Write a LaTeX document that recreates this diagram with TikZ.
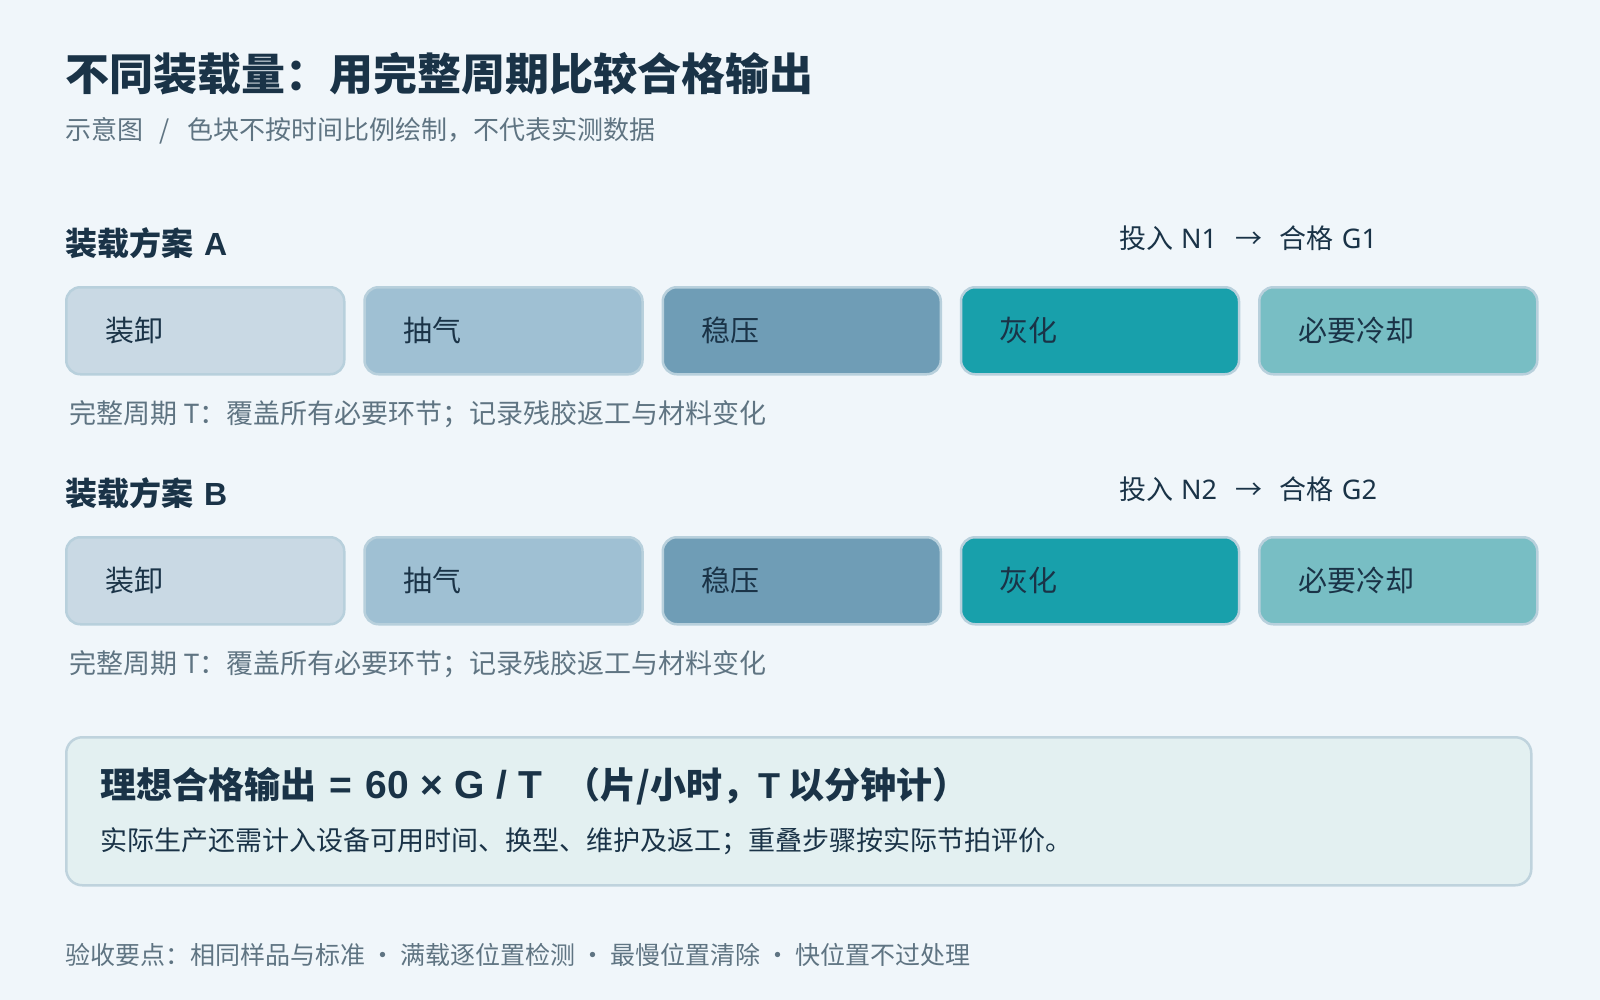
\documentclass[tikz,border=0pt]{standalone}
\usepackage{fontspec}
\setmainfont{Noto Sans CJK SC}
\newfontfamily\lat{Noto Sans}
\newfontfamily\latb{Liberation Sans}
\definecolor{bg}{HTML}{F0F6FA}
\definecolor{ink}{HTML}{1A3347}
\definecolor{sub}{HTML}{5F7482}
\definecolor{cA}{HTML}{C9D9E4}
\definecolor{cB}{HTML}{9FC0D3}
\definecolor{cC}{HTML}{6F9DB6}
\definecolor{cD}{HTML}{18A0AB}
\definecolor{cE}{HTML}{78BEC4}
\definecolor{bord}{HTML}{B8D0DC}
\definecolor{fbox}{HTML}{E3F0F1}
\definecolor{fbord}{HTML}{BFD3DD}
\newcommand{\fs}[1]{\fontsize{#1pt}{#1pt}\selectfont}
\newcommand{\lt}[1]{{\lat #1}}
\newcommand{\ltb}[1]{{\latb\bfseries #1}}
\tikzset{
  txt/.style={anchor=base west, inner sep=0pt, outer sep=0pt},
  stage/.style={draw=bord, line width=2.5pt, rounded corners=14pt, minimum width=278pt, minimum height=87pt, inner sep=0pt, anchor=north west},
  stagelbl/.style={anchor=west, inner sep=0pt, text=ink, font=\fs{29}},
}
\begin{document}
\begin{tikzpicture}[x=1pt,y=-1pt]
\fill[bg] (0,0) rectangle (1600,1000);
\useasboundingbox (0,0) rectangle (1600,1000);
% title
\node[txt, text=ink, font=\fs{44}\bfseries] (title) at (65,91) {不同装载量：用完整周期比较合格输出};
\node[txt, text=sub, font=\fs{26}] (subtitle) at (65,139.5) {示意图\hspace{17pt}/\hspace{17pt}色块不按时间比例绘制，不代表实测数据};
% section A
\node[txt, text=ink, font=\fs{32}\bfseries] (secA) at (65,255) {装载方案\hspace{11pt}\ltb{A}};
\node[txt, text=ink, font=\fs{27}] (rA) at (1119,249) {投入\hspace{8pt}\lt{N1}\hspace{19pt}→\hspace{17pt}合格\hspace{8pt}\lt{G1}};
\foreach \i/\c/\t in {0/cA/装卸,1/cB/抽气,2/cC/稳压,3/cD/灰化,4/cE/必要冷却}{
  \node[stage, fill=\c] (a\i) at (65+298.25*\i,286) {};
  \node[stagelbl] (la\i) at ([xshift=40pt]a\i.west) {\t};
}
\node[txt, text=sub, font=\fs{27}] (noteA) at (69,423) {完整周期\hspace{7pt}\lt{T}：覆盖所有必要环节；记录残胶返工与材料变化};
% section B
\node[txt, text=ink, font=\fs{32}\bfseries] (secB) at (65,505) {装载方案\hspace{11pt}\ltb{B}};
\node[txt, text=ink, font=\fs{27}] (rB) at (1119,499) {投入\hspace{8pt}\lt{N2}\hspace{19pt}→\hspace{17pt}合格\hspace{8pt}\lt{G2}};
\foreach \i/\c/\t in {0/cA/装卸,1/cB/抽气,2/cC/稳压,3/cD/灰化,4/cE/必要冷却}{
  \node[stage, fill=\c] (b\i) at (65+298.25*\i,536) {};
  \node[stagelbl] (lb\i) at ([xshift=40pt]b\i.west) {\t};
}
\node[txt, text=sub, font=\fs{27}] (noteB) at (69,673) {完整周期\hspace{7pt}\lt{T}：覆盖所有必要环节；记录残胶返工与材料变化};
% formula box
\node[draw=fbord, fill=fbox, line width=2.5pt, rounded corners=16pt, minimum width=1465pt, minimum height=148pt, anchor=north west, inner sep=0pt] (fbx) at (65,736) {};
\node[txt, text=ink, font=\fs{36}\bfseries] (f1) at (100,798) {理想合格输出\ltb{\fs{39}\hspace{13pt}=\hspace{14pt}60\hspace{11pt}×\hspace{12pt}G\hspace{11pt}/\hspace{11pt}T}\hspace{23pt}（片/小时，\ltb{T}\hspace{8pt}以分钟计）};
\node[txt, text=ink, font=\fs{27}] (f2) at (100,850) {实际生产还需计入设备可用时间、换型、维护及返工；重叠步骤按实际节拍评价。};
% footer
\node[txt, text=sub, font=\fs{25}] (foot) at (65,964) {验收要点：相同样品与标准\hspace{5pt}·\hspace{5pt}满载逐位置检测\hspace{5pt}·\hspace{5pt}最慢位置清除\hspace{5pt}·\hspace{5pt}快位置不过处理};
\end{tikzpicture}
\end{document}
